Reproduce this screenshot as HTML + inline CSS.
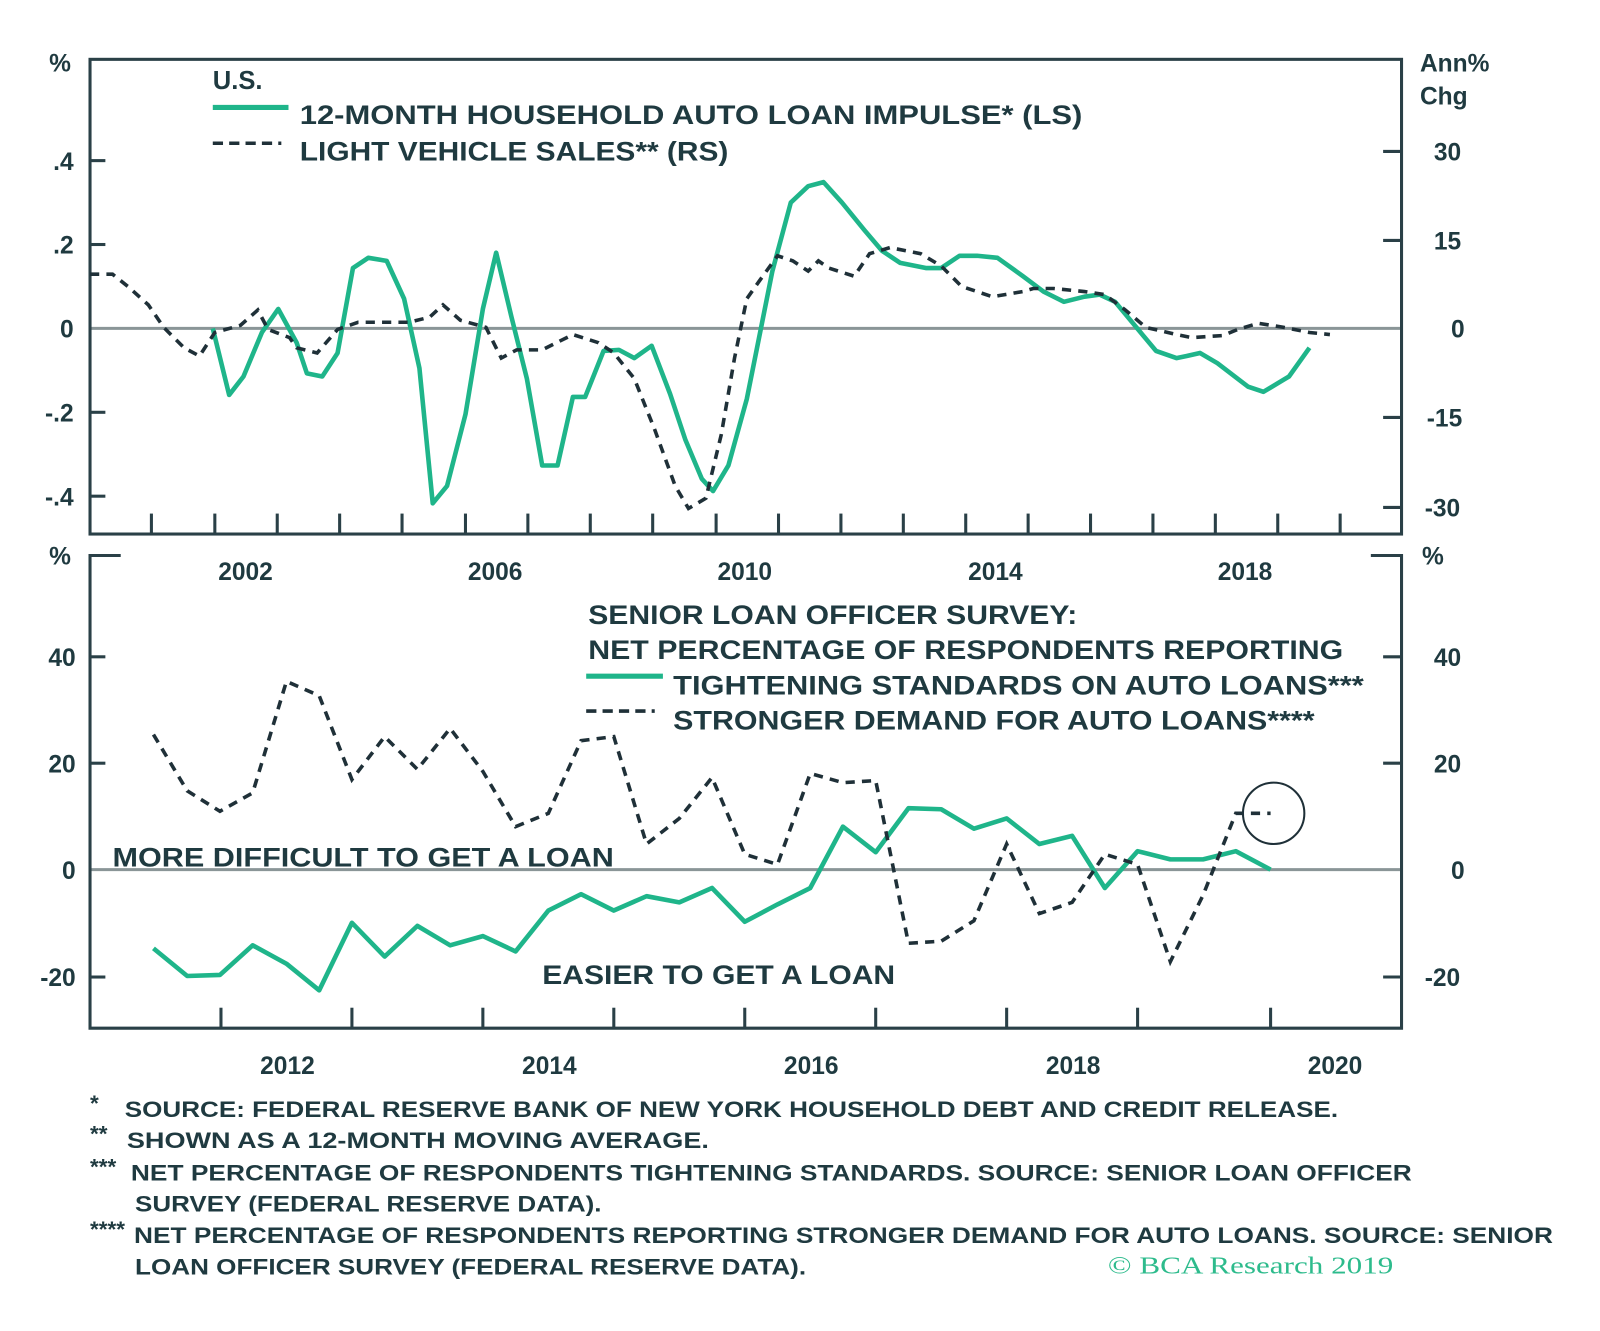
<!DOCTYPE html>
<html><head><meta charset="utf-8"><style>
html,body{margin:0;padding:0;background:#fff;}
svg{display:block;}
text{font-family:"Liberation Sans",sans-serif;font-weight:bold;fill:#1f3a40;}
</style></head><body>
<svg width="1600" height="1331" viewBox="0 0 1564 1301" preserveAspectRatio="none" xmlns="http://www.w3.org/2000/svg">
<rect width="1564" height="1301" fill="#fff"/>
<g stroke="#8a9597" stroke-width="3">
<line x1="88" y1="321" x2="1370" y2="321"/>
<line x1="88" y1="850" x2="1370" y2="850"/>
</g>
<g stroke="#2a4047" stroke-width="3">
<line x1="148" y1="522" x2="148" y2="502"/><line x1="210" y1="522" x2="210" y2="502"/><line x1="271" y1="522" x2="271" y2="502"/><line x1="332" y1="522" x2="332" y2="502"/><line x1="393" y1="522" x2="393" y2="502"/><line x1="455" y1="522" x2="455" y2="502"/><line x1="516" y1="522" x2="516" y2="502"/><line x1="577" y1="522" x2="577" y2="502"/><line x1="638" y1="522" x2="638" y2="502"/><line x1="700" y1="522" x2="700" y2="502"/><line x1="761" y1="522" x2="761" y2="502"/><line x1="822" y1="522" x2="822" y2="502"/><line x1="883" y1="522" x2="883" y2="502"/><line x1="944" y1="522" x2="944" y2="502"/><line x1="1005" y1="522" x2="1005" y2="502"/><line x1="1066" y1="522" x2="1066" y2="502"/><line x1="1127" y1="522" x2="1127" y2="502"/><line x1="1188" y1="522" x2="1188" y2="502"/><line x1="1249" y1="522" x2="1249" y2="502"/><line x1="1310" y1="522" x2="1310" y2="502"/>
<line x1="88" y1="157" x2="103" y2="157"/><line x1="88" y1="239" x2="103" y2="239"/><line x1="88" y1="403" x2="103" y2="403"/><line x1="88" y1="485" x2="103" y2="485"/>
<line x1="1352" y1="148" x2="1370" y2="148"/><line x1="1352" y1="235" x2="1370" y2="235"/><line x1="1352" y1="408" x2="1370" y2="408"/><line x1="1352" y1="496" x2="1370" y2="496"/>
<line x1="216" y1="1005" x2="216" y2="985"/><line x1="344" y1="1005" x2="344" y2="985"/><line x1="472" y1="1005" x2="472" y2="985"/><line x1="600" y1="1005" x2="600" y2="985"/><line x1="728" y1="1005" x2="728" y2="985"/><line x1="856" y1="1005" x2="856" y2="985"/><line x1="984" y1="1005" x2="984" y2="985"/><line x1="1112" y1="1005" x2="1112" y2="985"/><line x1="1242" y1="1005" x2="1242" y2="985"/>
<line x1="88" y1="642" x2="103" y2="642"/><line x1="88" y1="746" x2="103" y2="746"/><line x1="88" y1="955" x2="103" y2="955"/>
<line x1="1352" y1="642" x2="1370" y2="642"/><line x1="1352" y1="746" x2="1370" y2="746"/><line x1="1352" y1="955" x2="1370" y2="955"/>
</g>
<g fill="none" stroke="#2a4047" stroke-width="3">
<rect x="88" y="58" width="1282" height="464"/>
<polyline points="118,543 88,543 88,1005 1370,1005 1370,543 1340,543"/>
</g>
<polyline fill="none" stroke="#1fb58a" stroke-width="4.5" stroke-linejoin="round" points="208,321 224,386 238,368 256,325 272,302 290,335 300,365 315,368 330,345 345,262 360,252 378,255 395,292 410,360 423,492 437,475 455,405 472,302 485,247 500,310 515,370 530,455 545,455 560,388 572,388 590,343 605,342 620,350 637,338 655,385 670,430 686,468 697,480 712,455 730,390 755,265 773,198 790,182 805,178 823,198 845,225 862,245 880,257 905,262 920,262 938,250 955,250 975,252 1000,270 1020,285 1040,295 1060,290 1075,288 1090,295 1100,307 1115,325 1130,343 1150,350 1160,348 1173,345 1190,355 1220,378 1235,383 1260,368 1280,340"/>
<polyline fill="none" stroke="#1f3038" stroke-width="3.5" stroke-dasharray="9,7" points="88,268 110,268 125,280 145,298 160,320 180,340 195,348 210,325 235,318 252,303 262,322 283,330 290,340 310,345 330,322 350,315 400,315 420,310 433,298 450,313 475,320 490,350 505,342 530,342 560,327 585,335 600,345 620,370 640,420 660,475 673,497 690,487 705,425 718,350 730,292 742,275 760,250 775,255 790,265 800,255 810,262 835,270 850,248 870,242 900,248 920,260 940,280 970,290 1000,285 1010,282 1030,282 1060,285 1080,288 1100,303 1120,320 1150,327 1165,330 1195,328 1210,322 1230,316 1255,320 1280,325 1300,327"/>
<polyline fill="none" stroke="#1fb58a" stroke-width="4.5" stroke-linejoin="round" points="150,927 183,954 215,953 247,924 280,942 312,968 344,902 376,935 408,905 440,924 472,915 504,930 536,890 568,874 600,890 632,876 664,882 696,868 728,901 760,884 792,868 824,808 856,833 888,790 920,791 952,810 984,800 1016,825 1048,817 1080,868 1112,832 1144,840 1176,840 1208,832 1242,850"/>
<polyline fill="none" stroke="#1f3038" stroke-width="3.5" stroke-dasharray="9,7" points="150,718 183,773 215,793 247,775 280,666 312,680 344,762 376,720 408,752 440,712 472,754 504,808 536,795 568,724 600,720 632,825 664,800 696,760 728,835 760,845 792,756 824,765 856,763 888,922 920,920 952,900 984,825 1016,893 1048,882 1080,835 1112,845 1144,940 1176,875 1208,795 1242,795"/>
<circle cx="1245" cy="795" r="30" fill="none" stroke="#1f3038" stroke-width="2"/>
<text x="208" y="87" font-size="25">U.S.</text>
<line x1="208" y1="105" x2="282" y2="105" stroke="#1fb58a" stroke-width="5"/>
<text x="293" y="121" font-size="26" textLength="765" lengthAdjust="spacingAndGlyphs">12-MONTH HOUSEHOLD AUTO LOAN IMPULSE* (LS)</text>
<line x1="208" y1="140" x2="275" y2="140" stroke="#1f3038" stroke-width="3.5" stroke-dasharray="10,6"/>
<text x="293" y="157" font-size="26" textLength="419" lengthAdjust="spacingAndGlyphs">LIGHT VEHICLE SALES** (RS)</text>
<text x="575" y="610" font-size="26" textLength="478" lengthAdjust="spacingAndGlyphs">SENIOR LOAN OFFICER SURVEY:</text>
<text x="575" y="644" font-size="26" textLength="738" lengthAdjust="spacingAndGlyphs">NET PERCENTAGE OF RESPONDENTS REPORTING</text>
<line x1="573" y1="661" x2="648" y2="661" stroke="#1fb58a" stroke-width="5"/>
<text x="658" y="679" font-size="26" textLength="675" lengthAdjust="spacingAndGlyphs">TIGHTENING STANDARDS ON AUTO LOANS***</text>
<line x1="573" y1="695" x2="640" y2="695" stroke="#1f3038" stroke-width="3.5" stroke-dasharray="10,6"/>
<text x="658" y="713" font-size="26" textLength="627" lengthAdjust="spacingAndGlyphs">STRONGER DEMAND FOR AUTO LOANS****</text>
<text x="110" y="847" font-size="26" textLength="490" lengthAdjust="spacingAndGlyphs" fill="#111">MORE DIFFICULT TO GET A LOAN</text>
<text x="530" y="962" font-size="26" textLength="345" lengthAdjust="spacingAndGlyphs" fill="#111">EASIER TO GET A LOAN</text>
<g font-size="24">
<text x="48" y="70">%</text>
<text x="72" y="166" text-anchor="end">.4</text>
<text x="72" y="248" text-anchor="end">.2</text>
<text x="72" y="330" text-anchor="end">0</text>
<text x="72" y="412" text-anchor="end">-.2</text>
<text x="72" y="494" text-anchor="end">-.4</text>
<text x="1388" y="70">Ann%</text>
<text x="1388" y="102">Chg</text>
<text x="1415" y="157" text-anchor="middle">30</text>
<text x="1415" y="244" text-anchor="middle">15</text>
<text x="1425" y="330" text-anchor="middle">0</text>
<text x="1412" y="417" text-anchor="middle">-15</text>
<text x="1410" y="505" text-anchor="middle">-30</text>
<text x="240" y="567" text-anchor="middle">2002</text>
<text x="484" y="567" text-anchor="middle">2006</text>
<text x="728" y="567" text-anchor="middle">2010</text>
<text x="973" y="567" text-anchor="middle">2014</text>
<text x="1217" y="567" text-anchor="middle">2018</text>
<text x="48" y="552">%</text>
<text x="1390" y="552">%</text>
<text x="74" y="651" text-anchor="end">40</text>
<text x="74" y="755" text-anchor="end">20</text>
<text x="74" y="859" text-anchor="end">0</text>
<text x="74" y="964" text-anchor="end">-20</text>
<text x="1415" y="651" text-anchor="middle">40</text>
<text x="1415" y="755" text-anchor="middle">20</text>
<text x="1425" y="859" text-anchor="middle">0</text>
<text x="1410" y="964" text-anchor="middle">-20</text>
<text x="281" y="1050" text-anchor="middle">2012</text>
<text x="537" y="1050" text-anchor="middle">2014</text>
<text x="793" y="1050" text-anchor="middle">2016</text>
<text x="1049" y="1050" text-anchor="middle">2018</text>
<text x="1305" y="1050" text-anchor="middle">2020</text>
</g>
<g font-size="22">
<text x="88" y="1086">*</text>
<text x="122" y="1092" textLength="1186" lengthAdjust="spacingAndGlyphs">SOURCE: FEDERAL RESERVE BANK OF NEW YORK HOUSEHOLD DEBT AND CREDIT RELEASE.</text>
<text x="88" y="1116">**</text>
<text x="124" y="1122" textLength="569" lengthAdjust="spacingAndGlyphs">SHOWN AS A 12-MONTH MOVING AVERAGE.</text>
<text x="88" y="1148">***</text>
<text x="128" y="1154" textLength="1252" lengthAdjust="spacingAndGlyphs">NET PERCENTAGE OF RESPONDENTS TIGHTENING STANDARDS. SOURCE: SENIOR LOAN OFFICER</text>
<text x="132" y="1184" textLength="456" lengthAdjust="spacingAndGlyphs">SURVEY (FEDERAL RESERVE DATA).</text>
<text x="88" y="1209">****</text>
<text x="131" y="1215" textLength="1387" lengthAdjust="spacingAndGlyphs">NET PERCENTAGE OF RESPONDENTS REPORTING STRONGER DEMAND FOR AUTO LOANS. SOURCE: SENIOR</text>
<text x="132" y="1246" textLength="656" lengthAdjust="spacingAndGlyphs">LOAN OFFICER SURVEY (FEDERAL RESERVE DATA).</text>
</g>
<text x="1083" y="1245" font-size="24" style="font-family:'Liberation Serif',serif;font-weight:normal;fill:#2dbb8c" textLength="279" lengthAdjust="spacingAndGlyphs">© BCA Research 2019</text>
</svg>
</body></html>
